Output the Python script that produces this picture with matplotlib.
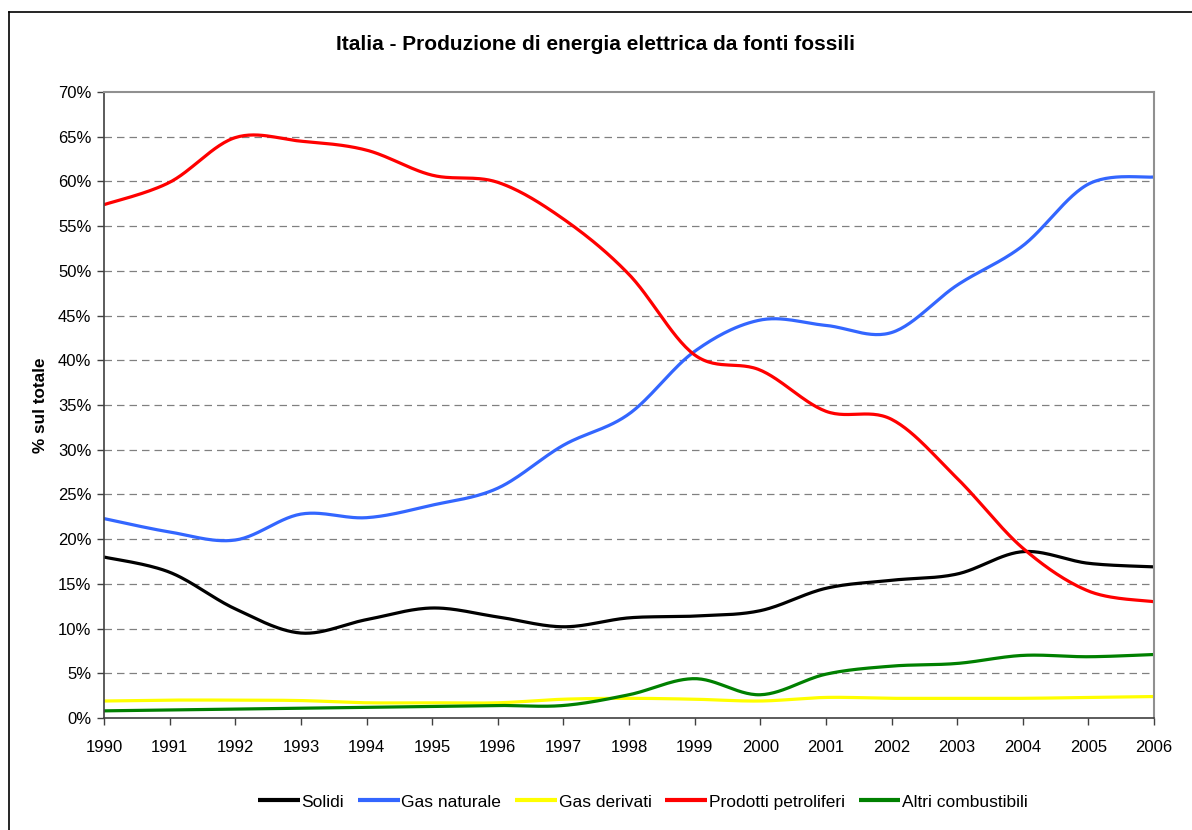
import numpy as np
import matplotlib
matplotlib.use("Agg")
import matplotlib.pyplot as plt
from matplotlib.lines import Line2D
from matplotlib.ticker import MultipleLocator, FuncFormatter

plt.rcParams['font.family'] = ['Liberation Sans', 'DejaVu Sans']

years = list(range(1990, 2007))
solidi = [18.0, 16.3, 12.2, 9.5, 11.0, 12.3, 11.3, 10.2, 11.2, 11.4, 12.0, 14.5, 15.4, 16.1, 18.6, 17.3, 16.9]
gas_naturale = [22.3, 20.8, 19.9, 22.8, 22.4, 23.8, 25.7, 30.5, 34.0, 41.0, 44.5, 43.9, 43.1, 48.4, 52.8, 59.7, 60.5]
gas_derivati = [1.9, 2.0, 2.0, 1.95, 1.7, 1.7, 1.7, 2.1, 2.2, 2.1, 1.9, 2.3, 2.2, 2.2, 2.2, 2.3, 2.4]
prodotti_petroliferi = [57.4, 59.9, 64.9, 64.5, 63.5, 60.7, 59.9, 55.8, 49.6, 40.6, 38.9, 34.3, 33.4, 26.8, 19.0, 14.2, 13.0]
altri_combustibili = [0.8, 0.9, 1.0, 1.1, 1.2, 1.3, 1.4, 1.4, 2.6, 4.4, 2.6, 4.9, 5.8, 6.1, 7.0, 6.85, 7.1]

series_names = ["Solidi", "Gas naturale", "Gas derivati", "Prodotti petroliferi", "Altri combustibili"]
series_colors = ["#000000", "#3366FF", "#FFFF00", "#FF0000", "#008000"]


def smooth(x, y, n=30):
    """Catmull-Rom style Bezier smoothing (as Excel's smoothed line)."""
    x = np.asarray(x, float)
    y = np.asarray(y, float)
    px = np.concatenate([[x[0]], x, [x[-1]]])
    py = np.concatenate([[y[0]], y, [y[-1]]])
    xs, ys = [], []
    t = np.linspace(0, 1, n)
    for i in range(len(x) - 1):
        p0 = np.array([px[i + 1], py[i + 1]])
        p3 = np.array([px[i + 2], py[i + 2]])
        c1 = p0 + (np.array([px[i + 2], py[i + 2]]) - np.array([px[i], py[i]])) / 6
        c2 = p3 - (np.array([px[i + 3], py[i + 3]]) - np.array([px[i + 1], py[i + 1]])) / 6
        b = ((1 - t) ** 3)[:, None] * p0 + (3 * (1 - t) ** 2 * t)[:, None] * c1 \
            + (3 * (1 - t) * t ** 2)[:, None] * c2 + (t ** 3)[:, None] * p3
        if i > 0:
            b = b[1:]
        xs.append(b[:, 0])
        ys.append(b[:, 1])
    return np.concatenate(xs), np.concatenate(ys)


W, H = 1192, 830
fig = plt.figure(figsize=(W / 100, H / 100), dpi=100)
ax = fig.add_axes([104 / W, (H - 718) / H, (1154 - 104) / W, (718 - 92) / H])

data = [solidi, gas_naturale, gas_derivati, prodotti_petroliferi, altri_combustibili]
for name, vals, col in zip(series_names, data, series_colors):
    sx, sy = smooth(years, vals)
    ax.plot(sx, sy, color=col, lw=2.3, label=name, solid_capstyle='butt')

ax.set_xlim(1990, 2006)
ax.set_ylim(0, 70)
ax.set_xticks(years)
ax.set_xticklabels([str(y) for y in years])
ax.yaxis.set_major_locator(MultipleLocator(5))
ax.yaxis.set_major_formatter(FuncFormatter(lambda v, p: f"{int(round(v))}%"))
ax.tick_params(axis='both', direction='out', length=5, width=1, color='#404040',
               labelsize=12, pad=4)
ax.tick_params(axis='x', pad=11)

for yv in range(5, 70, 5):
    ax.axhline(yv, color='#808080', lw=0.9, ls=(0, (6, 4)), zorder=0.5)

for side in ['left', 'bottom']:
    ax.spines[side].set_color('#404040')
    ax.spines[side].set_linewidth(1.2)
for side in ['top', 'right']:
    ax.spines[side].set_color('#909090')
    ax.spines[side].set_linewidth(1.5)

ax.set_ylabel("% sul totale", fontsize=12.3, fontweight='bold', labelpad=7)
fig.text(596 / W, 1 - 45 / H, "Italia - Produzione di energia elettrica da fonti fossili",
         ha='center', va='center', fontsize=15, fontweight='bold')

leg = fig.legend(loc='center', bbox_to_anchor=(643 / W, 1 - 802 / H), ncol=5, frameon=False,
                 fontsize=12.5, handlelength=2.4, handletextpad=0.1, columnspacing=0.8)
for h in leg.legend_handles:
    h.set_linewidth(3)

# outer chart border (left and top only visible)
fig.add_artist(Line2D([9 / W, 9 / W], [0, 1 - 12 / H], transform=fig.transFigure, color='black', lw=1.2))
fig.add_artist(Line2D([9 / W, 1], [1 - 12 / H, 1 - 12 / H], transform=fig.transFigure, color='black', lw=1.2))

fig.savefig("out.png", dpi=100)
